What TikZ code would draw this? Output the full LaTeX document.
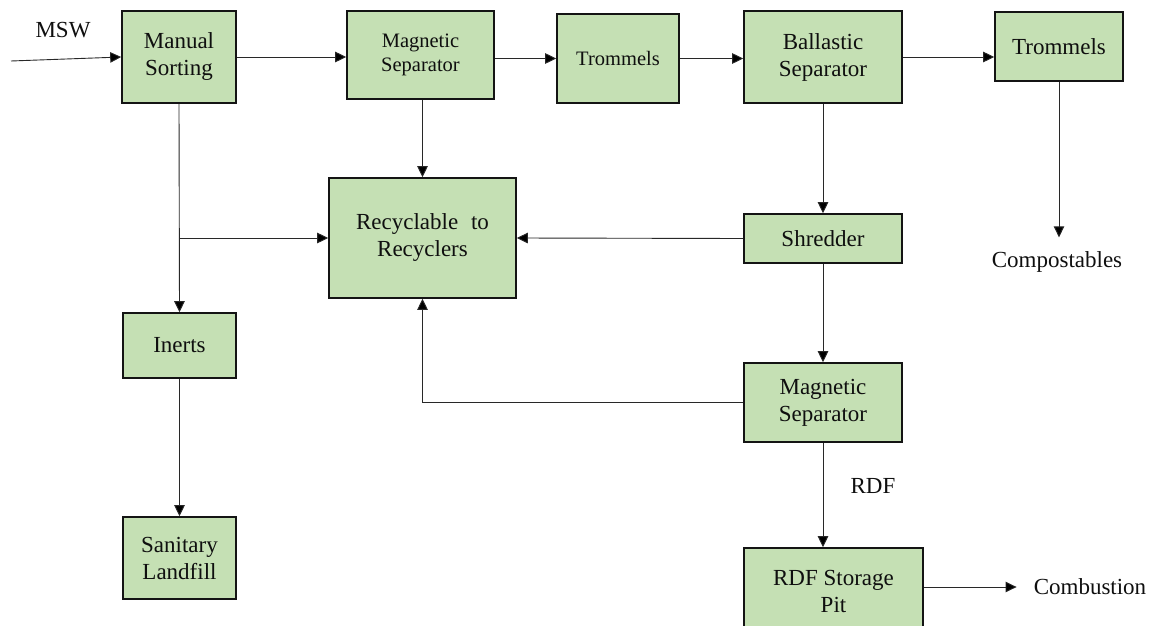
\documentclass[tikz,border=0pt]{standalone}
\usepackage{fontspec}
\setmainfont{Liberation Serif}
\usetikzlibrary{arrows.meta,calc}
\definecolor{boxfill}{RGB}{197,224,180}
\definecolor{boxline}{RGB}{20,20,20}
\definecolor{conn}{RGB}{40,40,40}
\definecolor{txt}{RGB}{15,15,15}
\tikzset{
  procbox/.style={draw=boxline, line width=1.6pt, fill=boxfill, rectangle, align=center,
    text=txt, font=\fontsize{23}{27}\selectfont, inner sep=2pt},
  smallbox/.style={procbox, font=\fontsize{20.5}{24}\selectfont},
  plaintext/.style={text=txt, font=\fontsize{23}{27}\selectfont, inner sep=3pt},
  flow/.style={draw=conn, line width=0.9pt, -{Triangle[length=11pt,width=10.5pt,fill=black]}},
  plainline/.style={draw=conn, line width=0.9pt}
}
\begin{document}
\begin{tikzpicture}[x=1pt,y=-1pt]
\useasboundingbox (0,0) rectangle (1157,626);

% boxes
\node[procbox, minimum width=114pt, minimum height=92pt] (ms) at (179,57) {Manual\\Sorting};
\node[smallbox, minimum width=147pt, minimum height=88pt] (mag1) at (420.5,55) {Magnetic\\Separator};
\node[smallbox, minimum width=122pt, minimum height=89pt] (tr1) at (618,58.5) {Trommels};
\node[procbox, minimum width=158pt, minimum height=92pt] (bal) at (823,57) {Ballastic\\Separator};
\node[procbox, minimum width=128pt, minimum height=69pt] (tr2) at (1059,46.5) {Trommels};
\node[procbox, minimum width=187pt, minimum height=120pt] (rec) at (422.5,238) {Recyclable\hspace{7pt} to\\Recyclers};
\node[procbox, minimum width=158pt, minimum height=49pt] (shr) at (823,238.5) {Shredder};
\node[procbox, minimum width=113pt, minimum height=65pt] (inerts) at (179.5,345.5) {Inerts};
\node[procbox, minimum width=113pt, minimum height=82pt] (san) at (179.5,558) {Sanitary\\Landfill};
\node[procbox, minimum width=158pt, minimum height=79pt] (mag2) at (823,402.5) {Magnetic\\Separator};
\node[procbox, minimum width=179pt, minimum height=86pt] (rdfp) at (833.5,591) {RDF Storage\\Pit};

% free texts
\node[plaintext] (msw) at (63,30) {MSW};
\node[plaintext] (comp) at (1057,262) {Compostables};
\node[plaintext] (rdf) at (873,486) {RDF};
\node[plaintext] (comb) at (1090,587) {Combustion};

% connectors
\coordinate (in) at (11,61);
\draw[flow] (in) -- (ms.west);
\draw[flow] (ms.east) -- (ms.east -| mag1.west);
\draw[flow] (tr1.west -| mag1.east) -- (tr1.west);
\draw[flow] (tr1.east) -- (tr1.east -| bal.west);
\draw[flow] (bal.east) -- (bal.east -| tr2.west);
\draw[flow, shorten >=11pt] (tr2.south) -- (tr2.south |- comp.north);
\draw[flow] (bal.south) -- (shr.north);
\draw[flow] (shr.west) -- (rec.east);
\draw[flow] (rec.north |- mag1.south) -- (rec.north);
\draw[flow] (ms.south) -- (inerts.north);
\coordinate (br) at (ms.south |- rec.west);
\draw[flow] (br) -- (rec.west);
\draw[flow] (inerts.south) -- (san.north);
\draw[flow] (shr.south) -- (mag2.north);
\draw[flow] (mag2.west) -- (mag2.west -| rec.south) -- (rec.south);
\draw[flow] (mag2.south) -- (mag2.south |- rdfp.north);
\draw[flow, shorten >=14pt] (rdfp.east |- comb.west) -- (comb.west);
\end{tikzpicture}
\end{document}
